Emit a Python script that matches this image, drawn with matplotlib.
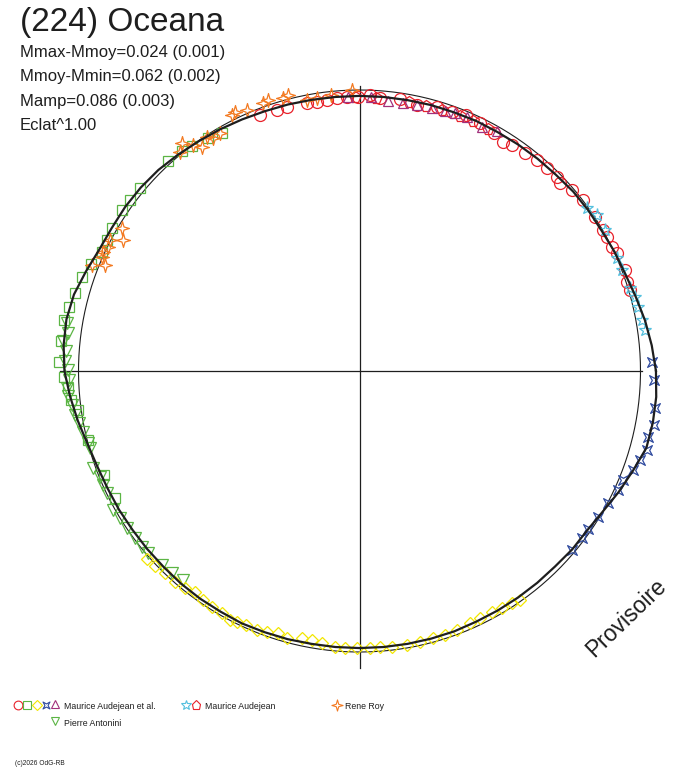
import numpy as np
import matplotlib
matplotlib.use('Agg')
import matplotlib.pyplot as plt
from matplotlib.path import Path

plt.rcParams['font.family'] = ['Liberation Sans', 'DejaVu Sans']

# fitted curve: relative radius (flux^1) every 5 deg of position angle
curve_ang = np.arange(0, 360, 5)
curve_r = [1.055, 1.044, 1.032, 1.018, 1.007, 1.002, 0.996, 0.995, 0.993, 0.988,
           0.986, 0.984, 0.982, 0.982, 0.980, 0.980, 0.979, 0.979, 0.979, 0.979,
           0.980, 0.982, 0.984, 0.988, 0.993, 0.998, 1.005, 1.012, 1.016, 1.018,
           1.018, 1.022, 1.036, 1.052, 1.059, 1.057, 1.050, 1.034, 1.018, 1.002,
           0.993, 0.989, 0.988, 0.986, 0.986, 0.986, 0.988, 0.989, 0.989, 0.991,
           0.989, 0.988, 0.986, 0.986, 0.986, 0.986, 0.986, 0.986, 0.986, 0.984,
           0.984, 0.984, 0.984, 0.984, 0.988, 0.989, 1.000, 1.018, 1.036, 1.057,
           1.060, 1.060]

# observations: position angle (deg) and relative radius
circ_ang = [111.2, 107.6, 105.4, 101.2, 99.0, 96.9, 94.8, 92.7, 90.3, 87.8, 85.7, 81.5,
            77.9, 73.7, 70.4, 67.4, 64.1, 60.5, 57.9, 56.0, 52.8, 50.0, 47.3, 44.6,
            43.1, 40.5, 37.4, 33.2, 30.0, 28.5, 26.2, 24.6, 20.8, 18.5, 16.7]
circ_r = [0.978, 0.974, 0.975, 0.971, 0.970, 0.972, 0.974, 0.977, 0.974, 0.983, 0.973, 0.978,
          0.968, 0.978, 0.979, 0.987, 0.980, 0.975, 0.963, 0.970, 0.973, 0.980, 0.982, 0.985,
          0.977, 0.993, 1.002, 1.002, 1.002, 1.001, 1.001, 1.007, 1.011, 1.002, 1.005]

sq_ang = [120.0, 123.0, 126.7, 128.9, 132.3, 140.1, 143.3, 145.9, 150.1, 152.6, 155.2, 158.3,
          161.3, 164.6, 167.5, 170.2, 174.3, 178.2, 181.1, 183.4, 185.7, 187.9, 194.2, 202.2, 207.5]
sq_r = [0.980, 0.988, 1.000, 1.007, 1.011, 1.018, 1.019, 1.022, 1.018, 1.013, 1.011, 1.028,
        1.044, 1.050, 1.059, 1.066, 1.068, 1.070, 1.051, 1.040, 1.033, 1.012, 0.998, 0.981, 0.981]

dia_ang = [221.4, 223.7, 226.1, 228.8, 231.2, 233.3, 235.7, 237.9, 240.4, 242.5, 243.9, 246.0,
           248.4, 250.4, 252.8, 254.9, 257.8, 259.9, 262.1, 264.9, 267.0, 269.4, 272.2, 274.3,
           276.7, 279.8, 282.6, 285.4, 288.0, 290.6, 293.7, 296.0, 298.8, 301.0, 303.2, 305.0]
dia_r = [1.009, 1.007, 0.999, 0.997, 0.992, 0.980, 0.986, 0.990, 0.992, 0.999, 0.994, 0.989,
         0.992, 0.985, 0.977, 0.984, 0.973, 0.972, 0.978, 0.985, 0.988, 0.987, 0.988, 0.984,
         0.988, 0.989, 0.987, 0.987, 0.988, 0.984, 0.980, 0.979, 0.977, 0.984, 0.988, 0.995]

blue_ang = [1.8, -1.8, -7.2, -10.4, -12.8, -15.4, -17.6, -19.9, -22.4, -24.7, -28.0, -31.4,
            -34.7, -37.0, -40.1]
blue_r = [1.040, 1.048, 1.060, 1.065, 1.054, 1.060, 1.047, 1.036, 1.016, 1.014, 1.003, 0.995,
          0.990, 0.990, 0.988]

tri_ang = [92.5, 87.5, 83.9, 80.7, 77.9, 74.6, 71.8, 69.7, 67.1, 63.4, 60.1]
tri_r = [0.975, 0.977, 0.967, 0.965, 0.968, 0.969, 0.975, 0.978, 0.980, 0.972, 0.984]

tdn_ang = [170.6, 172.5, 174.2, 176.1, 178.0, 179.8, 181.8, 183.4, 185.0, 186.7, 188.8, 190.6,
           192.4, 194.9, 196.0, 200.1, 202.2, 204.0, 205.8, 209.4, 211.6, 214.1, 216.7, 218.9,
           220.8, 224.4, 227.1, 229.9]
tdn_r = [1.054, 1.045, 1.059, 1.047, 1.049, 1.036, 1.033, 1.044, 1.040, 1.031, 1.025, 1.014,
         1.006, 0.999, 0.998, 1.009, 0.997, 0.998, 0.999, 1.006, 1.001, 0.998, 0.996, 0.996,
         0.993, 0.986, 0.982, 0.973]

star_ang = [35.6, 33.3, 29.9, 23.7, 21.1, 17.0, 15.1, 13.0, 10.2, 8.2]
star_r = [0.994, 1.010, 1.007, 0.999, 1.000, 1.007, 1.015, 1.018, 1.021, 1.026]

pent_ang = [91.0, 86.5, 79.5, 76.0, 72.5, 68.5, 65.5, 62.0]
pent_r = [0.976, 0.975, 0.972, 0.973, 0.974, 0.976, 0.978, 0.975]

roy_ang = [116.5, 115.6, 113.4, 109.8, 108.6, 105.6, 104.5, 101.0, 98.9, 95.8, 91.6,
           128.0, 129.3, 126.3, 125.1, 123.1, 122.1, 120.4,
           149.0, 151.0, 152.3, 153.7, 155.0, 156.1, 157.4, 158.4]
roy_r = [1.018, 1.023, 1.012, 1.012, 1.017, 1.007, 1.014, 0.983, 0.982, 0.987, 1.000,
         1.028, 1.009, 0.998, 0.976, 0.995, 0.978, 0.981,
         0.987, 0.961, 1.003, 0.998, 1.006, 1.004, 0.981, 1.025]

stats = ['Mmax-Mmoy=0.024 (0.001)', 'Mmoy-Mmin=0.062 (0.002)', 'Mamp=0.086 (0.003)', 'Eclat^1.00']

RED = '#e8222b'
GREEN = '#5bb544'
YELLOW = '#f2e600'
BLUE = '#2f4a9e'
PURPLE = '#a2307c'
CYAN = '#55c0de'
ORANGE = '#f37a22'
INK = '#1e1e1e'

# custom markers
sparkle = Path([(0, 1), (0.22, 0.22), (1, 0), (0.22, -0.22), (0, -1), (-0.22, -0.22),
                (-1, 0), (-0.22, 0.22), (0, 1)], closed=True)
cross4 = Path([(1, 1), (0.45, 0), (1, -1), (0, -0.45), (-1, -1), (-0.45, 0), (-1, 1),
               (0, 0.45), (1, 1)], closed=True)

W, H = 688, 768
CX, CY, R = 359.5, 371.0, 281.0

fig = plt.figure(figsize=(W / 100, H / 100), dpi=100)
ax = fig.add_axes([0, 0, 1, 1])
ax.set_xlim(-CX / R, (W - CX) / R)
ax.set_ylim(-(H - CY) / R, CY / R)
ax.axis('off')


def xy(ang, r):
    a = np.radians(ang)
    r = np.asarray(r)
    return r * np.cos(a), r * np.sin(a)


# axes cross and reference circle
ax.plot([-1.066, 1.005], [0, 0], color=INK, lw=0.9)
ax.plot([0, 0], [-1.057, 1.015], color=INK, lw=0.9)
t = np.linspace(0, 2 * np.pi, 400)
ax.plot(np.cos(t), np.sin(t), color=INK, lw=0.8)

series = [
    (circ_ang, circ_r, 'o', RED, 8.6),
    (pent_ang, pent_r, 'p', RED, 8.5),
    (tri_ang, tri_r, '^', PURPLE, 7.5),
    (star_ang, star_r, '*', CYAN, 9.5),
    (sq_ang, sq_r, 's', GREEN, 7),
    (tdn_ang, tdn_r, 'v', GREEN, 8),
    (dia_ang, dia_r, 'D', YELLOW, 6),
    (blue_ang, blue_r, cross4, BLUE, 7),
    (roy_ang, roy_r, sparkle, ORANGE, 10),
]
for ang, r, m, c, ms in series:
    x, y = xy(ang, r)
    ax.plot(x, y, ls='none', marker=m, ms=ms, mfc='none', mec=c, mew=0.9)

cx_, cy_ = xy(np.append(curve_ang, 360), curve_r + curve_r[:1])
ax.plot(cx_, cy_, color=INK, lw=1.6)

# texts
def ftext(x, y, s, **kw):
    fig.text(x / W, 1 - y / H, s, color=INK, **kw)

ftext(20, 31.5, '(224) Oceana', fontsize=24, va='baseline')
for i, s in enumerate(stats):
    ftext(20, 56.5 + i * 24.6, s, fontsize=12, va='baseline')
ftext(626, 618, 'Provisoire', fontsize=16.5, rotation=44, ha='center', va='center')

# legend
lg = fig.add_axes([0, 0, 1, 1])
lg.set_xlim(0, W)
lg.set_ylim(H, 0)
lg.axis('off')
leg_marks = [(17.5, 704.5, 'o', RED, 6.3), (27, 704.5, 's', GREEN, 5.2),
             (36.5, 704.5, 'D', YELLOW, 4.6), (46, 704.5, cross4, BLUE, 5),
             (55, 704, '^', PURPLE, 6), (55, 721, 'v', GREEN, 6),
             (186, 704.5, '*', CYAN, 7.5), (195.5, 704.5, 'p', RED, 6.5),
             (336.5, 704.5, sparkle, ORANGE, 8)]
for x, y, m, c, ms in leg_marks:
    lg.plot([x], [y], ls='none', marker=m, ms=ms, mfc='none', mec=c, mew=0.8)
ftext(64.5, 709, 'Maurice Audejean et al.', fontsize=6.3, va='baseline')
ftext(64.5, 725.5, 'Pierre Antonini', fontsize=6.3, va='baseline')
ftext(205, 709, 'Maurice Audejean', fontsize=6.3, va='baseline')
ftext(345, 709, 'Rene Roy', fontsize=6.3, va='baseline')
ftext(15, 765, '(c)2026 OdG-RB', fontsize=4.8, va='baseline')

fig.savefig('out.png', dpi=100)
